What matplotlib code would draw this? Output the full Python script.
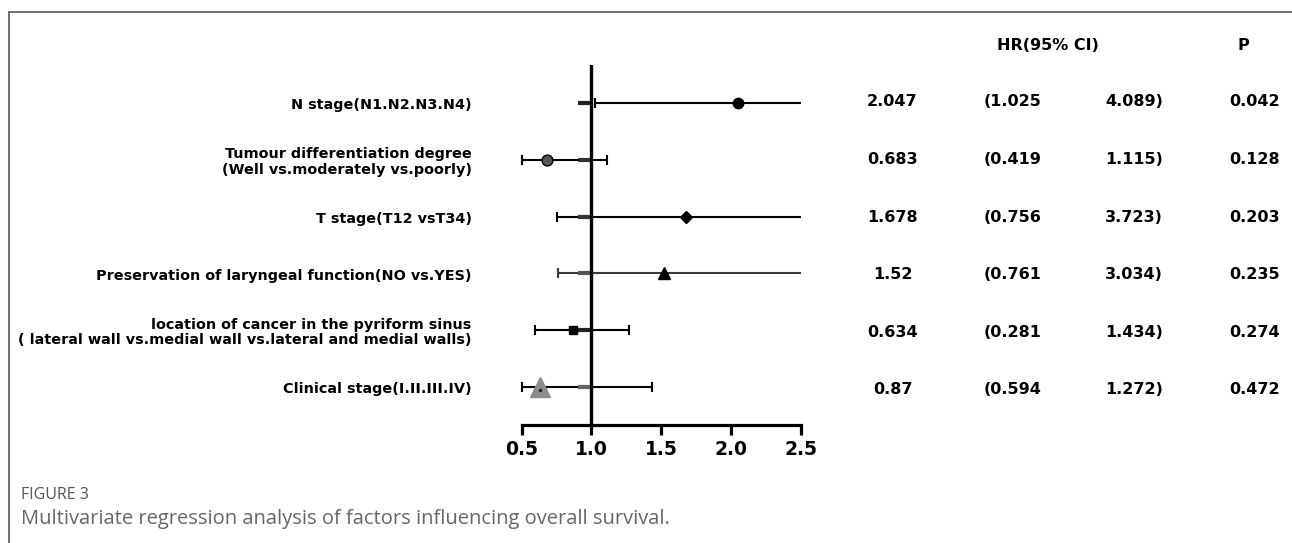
import matplotlib
matplotlib.use("Agg")
import matplotlib.pyplot as plt
from matplotlib.lines import Line2D
from matplotlib.transforms import blended_transform_factory

# ---------------- data ----------------
labels = [
    "N stage(N1.N2.N3.N4)",
    "Tumour differentiation degree\n(Well vs.moderately vs.poorly)",
    "T stage(T12 vsT34)",
    "Preservation of laryngeal function(NO vs.YES)",
    "location of cancer in the pyriform sinus\n( lateral wall vs.medial wall vs.lateral and medial walls)",
    "Clinical stage(I.II.III.IV)",
]
# table values (as printed)
hr_text = ["2.047", "0.683", "1.678", "1.52", "0.634", "0.87"]
lo_text = ["(1.025", "(0.419", "(0.756", "(0.761", "(0.281", "(0.594"]
hi_text = ["4.089)", "1.115)", "3.723)", "3.034)", "1.434)", "1.272)"]
p_text = ["0.042", "0.128", "0.203", "0.235", "0.274", "0.472"]

# values as drawn in the forest plot (rows 5 and 6 are drawn swapped in the original figure)
plot_hr = [2.047, 0.683, 1.678, 1.52, 0.87, 0.634]
plot_lo = [1.025, 0.419, 0.756, 0.761, 0.594, 0.281]
plot_hi = [4.089, 1.115, 3.723, 3.034, 1.272, 1.434]

x_ticks = [0.5, 1.0, 1.5, 2.0, 2.5]
x_tick_labels = ["0.5", "1.0", "1.5", "2.0", "2.5"]
ref_value = 1.0

# ---------------- styles ----------------
markers = ["o", "o", "D", "^", "s", "^"]
marker_sizes = [7.5, 7.8, 6, 8, 5.5, 14]
marker_faces = ["black", "#555555", "black", "black", "black", "#8c8c8c"]
marker_edges = ["black", "black", "black", "black", "black", "#8c8c8c"]
line_colors = ["black", "black", "black", "#3a3a3a", "black", "black"]
dash_colors = ["#222222", "#333333", "#333333", "#555555", "#222222", "#666666"]

W, H = 1292, 543
fig = plt.figure(figsize=(W / 100, H / 100), dpi=100)
plt.rcParams["font.family"] = ["DejaVu Sans"]

def fx(px):
    return px / W

def fy(py):
    return 1 - py / H

# frame lines of the figure panel
fig.add_artist(Line2D([fx(9), 1.0], [fy(12), fy(12)], color="#666666", lw=1.3))
fig.add_artist(Line2D([fx(9), fx(9)], [fy(12), 0.0], color="#666666", lw=1.3))

# forest plot axes
ax_left, ax_right = 521.7, 800.7
ax_top, ax_bottom = 65, 425
ax = fig.add_axes([fx(ax_left), fy(ax_bottom), fx(ax_right - ax_left), (ax_bottom - ax_top) / H])
n = len(labels)
ys = [n - 1 - i for i in range(n)]
xmin, xmax = x_ticks[0], x_ticks[-1]
ax.set_xlim(xmin, xmax)
ax.set_ylim(-0.67, n - 1 + 0.67)
for s in ["left", "right", "top"]:
    ax.spines[s].set_visible(False)
ax.spines["bottom"].set_linewidth(2.3)
ax.set_yticks([])
ax.set_xticks(x_ticks)
ax.set_xticklabels(x_tick_labels, fontsize=13.5, fontweight="bold")
ax.tick_params(axis="x", length=7.5, width=2.3, pad=3, direction="out")
ax.patch.set_alpha(0)

for i, y in enumerate(ys):
    lo_c = max(plot_lo[i], xmin)
    hi_c = min(plot_hi[i], xmax)
    ax.plot([lo_c, hi_c], [y, y], color=line_colors[i], lw=1.5, clip_on=False,
            solid_capstyle="butt", zorder=2)
    ax.plot([lo_c], [y], marker="|", markersize=7, mew=1.5, color=line_colors[i],
            clip_on=False, zorder=2)
    if plot_hi[i] <= xmax:
        ax.plot([hi_c], [y], marker="|", markersize=7, mew=1.5, color=line_colors[i],
                clip_on=False, zorder=2)
    ax.plot([ref_value - 0.1, ref_value], [y, y], color=dash_colors[i], lw=3,
            solid_capstyle="butt", zorder=3)
    ax.plot([plot_hr[i]], [y], marker=markers[i], markersize=marker_sizes[i],
            markerfacecolor=marker_faces[i], markeredgecolor=marker_edges[i],
            markeredgewidth=1.0, linestyle="none", zorder=5, clip_on=False)
    if i == n - 1:
        ax.plot([plot_hr[i]], [y - 0.05], marker="o", markersize=1.5, color="#222222",
                zorder=6)

ax.axvline(ref_value, color="black", lw=2.4, zorder=4)

# row labels
lab_tr = blended_transform_factory(fig.transFigure, ax.transData)
for i, y in enumerate(ys):
    ax.text(fx(471.7), y - 0.04, labels[i], transform=lab_tr, ha="right", va="center",
            fontsize=10.35, fontweight="bold", linespacing=1.12, multialignment="right")

# table
tax = fig.add_axes([0, fy(418.8), 1, (418.8 - 72.9) / H])
tax.axis("off")
tax.set_ylim(-0.5, n - 0.5)
tax.set_xlim(0, 1)
tab_tr = blended_transform_factory(fig.transFigure, tax.transData)
col_x = [892.5, 1013, 1134, 1255]
for i in range(n):
    y = n - 1 - i
    for cx, txt in zip(col_x, [hr_text[i], lo_text[i], hi_text[i], p_text[i]]):
        tax.text(fx(cx), y, txt, transform=tab_tr, ha="center", va="center",
                 fontsize=11.5, fontweight="bold")

fig.text(fx(1047.7), fy(45.5), "HR(95% CI)", ha="center", va="center",
         fontsize=11.5, fontweight="bold")
fig.text(fx(1243), fy(45.5), "P", ha="center", va="center",
         fontsize=11.5, fontweight="bold")

# caption
fig.text(fx(21), fy(495), "FIGURE 3", ha="left", va="center", fontsize=11.5,
         color="#555555", family=["Open Sans", "DejaVu Sans"])
fig.text(fx(21), fy(519), "Multivariate regression analysis of factors influencing overall survival.",
         ha="left", va="center", fontsize=14.5, color="#666666",
         family=["Open Sans", "DejaVu Sans"])

fig.savefig("out.png", dpi=100)
